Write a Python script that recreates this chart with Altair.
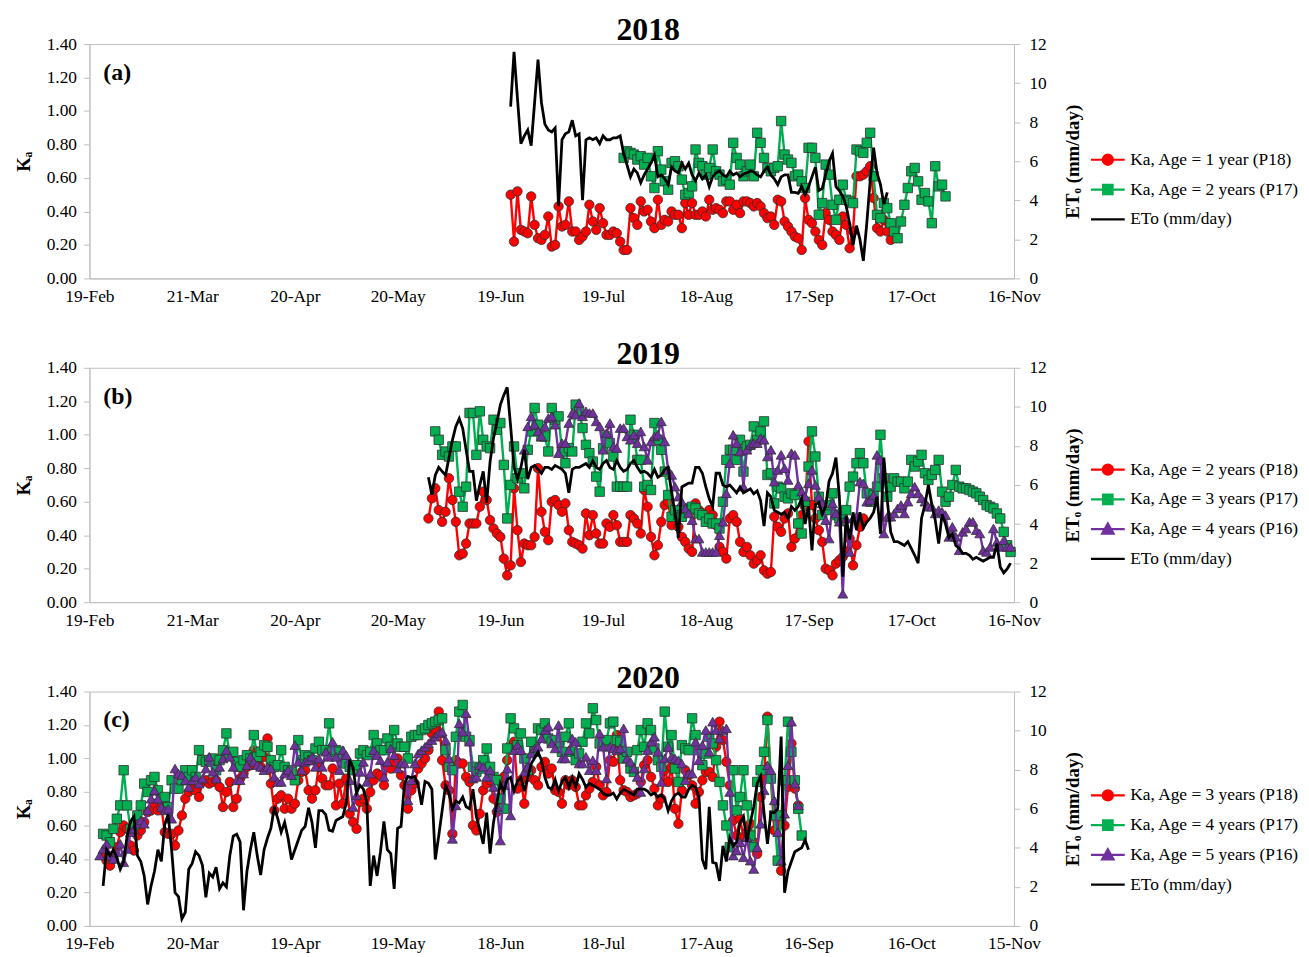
import altair as alt
import pandas as pd

FONT = "Liberation Serif"
GRAY = "#bfbfbf"

TICK_DAYS = [0, 30, 60, 90, 120, 150, 180, 210, 240, 270]
LABELS_2018 = ["19-Feb", "21-Mar", "20-Apr", "20-May", "19-Jun", "19-Jul", "18-Aug", "17-Sep", "17-Oct", "16-Nov"]
LABELS_2019 = ["19-Feb", "21-Mar", "20-Apr", "20-May", "19-Jun", "19-Jul", "18-Aug", "17-Sep", "17-Oct", "16-Nov"]
LABELS_2020 = ["19-Feb", "20-Mar", "19-Apr", "19-May", "18-Jun", "18-Jul", "17-Aug", "16-Sep", "16-Oct", "15-Nov"]
KA_TICKS = [0, 0.2, 0.4, 0.6, 0.8, 1.0, 1.2, 1.4]
ETO_TICKS = [0, 2, 4, 6, 8, 10, 12]

# ---------------- 2018 (day index = days after 19-Feb) ----------------
START_2018_P18 = 123
KA_2018_P18 = [0.50, 0.22, 0.52, 0.29, 0.28, 0.27, 0.49, 0.32, 0.24, 0.23,
               0.26, 0.37, 0.19, 0.20, 0.43, 0.31, 0.32, 0.46, 0.28, 0.28,
               0.23, 0.25, 0.28, 0.44, 0.34, 0.29, 0.42, 0.33, 0.26, 0.26,
               0.28, 0.27, 0.22, 0.17, 0.17, 0.42, 0.36, 0.32, 0.46, 0.40,
               0.41, 0.34, 0.30, 0.47, 0.32, 0.35, 0.34, 0.40, 0.38, 0.38,
               0.30, 0.45, 0.38, 0.45, 0.38, 0.38, 0.40, 0.37, 0.47, 0.41,
               0.42, 0.41, 0.39, 0.46, 0.46, 0.41, 0.44, 0.39, 0.46, 0.46,
               0.45, 0.43, 0.45, 0.43, 0.39, 0.36, 0.37, 0.32, 0.47, 0.46,
               0.34, 0.31, 0.28, 0.25, 0.24, 0.17, 0.48, 0.35, 0.33, 0.28,
               0.23, 0.20, 0.39, 0.35, 0.28, 0.26, 0.23, 0.37, 0.32, 0.18,
               0.28, 0.61, 0.61, 0.62, 0.64, 0.67, 0.48, 0.30, 0.28, 0.35,
               0.28, 0.23]
START_2018_P17 = 156
KA_2018_P17 = [0.72, 0.76, 0.75, 0.74, 0.71, 0.73, 0.68, 0.72, 0.61, 0.54,
               0.76, 0.65, 0.58, 0.53, 0.69, 0.70, 0.67, 0.59, 0.50, 0.51,
               0.55, 0.77, 0.69, 0.67, 0.62, 0.66, 0.77, 0.64, 0.62, 0.58,
               0.59, 0.56, 0.81, 0.72, 0.68, 0.61, 0.64, 0.68, 0.61, 0.87,
               0.81, 0.72, 0.66, 0.64, 0.66, 0.67, 0.94, 0.74, 0.71, 0.69,
               0.61, 0.62, 0.58, 0.54, 0.78, 0.78, 0.72, 0.38, 0.45, 0.68,
               0.62, 0.44, 0.35, 0.47, 0.56, 0.47, 0.46, 0.45, 0.77, 0.76,
               0.75, 0.81, 0.87, 0.61, 0.38, 0.36, 0.45, 0.42, 0.33, 0.28,
               0.24, 0.34, 0.44, 0.54, 0.64, 0.66, 0.58, 0.47, 0.51, 0.46,
               0.33, 0.67, 0.55, 0.56, 0.49]
START_2018_ETO = 123
ETO_2018 = [8.8, 11.6, 9.2, 6.9, 7.3, 7.6, 6.8, 9.0, 11.2, 9.0,
            7.9, 7.6, 7.5, 7.7, 3.7, 7.1, 7.4, 7.5, 8.1, 7.3,
            7.4, 4.0, 7.1, 7.2, 7.1, 7.2, 6.9, 7.3, 7.1, 7.1,
            7.2, 7.2, 7.3, 6.4, 5.8, 5.2, 5.6, 5.4, 4.9, 5.3,
            5.6, 5.9, 6.3, 5.2, 5.3, 5.1, 4.8, 5.7, 5.5, 5.4,
            5.9, 5.6, 5.9, 5.3, 5.0, 5.4, 5.1, 5.3, 4.7, 5.2,
            5.4, 5.5, 5.3, 5.2, 5.5, 5.3, 5.4, 5.2, 5.35, 5.4,
            5.5, 5.45, 5.3, 5.2, 5.5, 5.7, 5.3, 5.1, 4.8, 5.2,
            5.3, 5.3, 4.4, 4.4, 4.35, 4.7, 4.3, 4.7, 5.2, 5.7,
            4.5, 4.6, 5.3, 6.0, 6.4, 4.7, 4.5, 4.2, 3.7, 2.8,
            1.7, 2.7, 2.0, 0.9, 2.8, 5.0, 6.7, 5.4, 4.8, 3.8,
            4.4]

# ---------------- 2019 ----------------
START_2019_P18 = 99
KA_2019_P18 = [0.50, 0.62, 0.68, 0.55, 0.48, 0.54, 0.74, 0.61, 0.48, 0.28,
               0.29, 0.35, 0.47, 0.47, 0.47, 0.57, 0.66, 0.61, 0.49, 0.44,
               0.41, 0.39, 0.26, 0.16, 0.22, 0.68, 0.43, 0.24, 0.35, 0.34,
               0.34, 0.39, 0.80, 0.54, 0.42, 0.37, 0.60, 0.61, 0.58, 0.54,
               0.59, 0.43, 0.36, 0.35, 0.34, 0.32, 0.53, 0.40, 0.52, 0.41,
               0.35, 0.35, 0.47, 0.45, 0.52, 0.46, 0.36, 0.36, 0.36, 0.52,
               0.50, 0.47, 0.41, 0.67, 0.57, 0.39, 0.28, 0.34, 0.48, 0.58,
               0.60, 0.46, 0.52, 0.45, 0.39, 0.36, 0.32, 0.30, 0.59, 0.55,
               0.53, 0.50, 0.55, 0.52, 0.46, 0.33, 0.30, 0.26, 0.50, 0.52,
               0.48, 0.36, 0.30, 0.33, 0.28, 0.23, 0.25, 0.28, 0.19, 0.17,
               0.18, 0.51, 0.45, 0.42, 0.50, 0.53, 0.33, 0.38, 0.47, 0.52,
               0.57, 0.96, 0.58, 0.50, 0.43, 0.36, 0.20, 0.19, 0.16, 0.23,
               0.25, 0.27, 0.30, 0.38, 0.22, 0.34, 0.45, 0.50]
START_2019_P17 = 101
KA_2019_P17 = [1.02, 0.97, 0.88, 0.90, 0.87, 0.93, 0.93, 0.66, 0.57, 0.69,
               1.13, 1.13, 0.88, 1.14, 0.97, 0.93, 0.92, 1.09, 1.03, 1.07,
               0.82, 0.50, 0.70, 0.93, 0.74, 0.77, 0.68, 0.91, 1.02, 1.16,
               1.06, 0.99, 0.99, 0.90, 1.16, 1.09, 1.11, 0.90, 0.83, 0.92,
               0.90, 1.18, 1.14, 1.04, 0.94, 0.89, 0.84, 0.75, 0.66, 0.92,
               0.99, 0.95, 0.87, 0.69, 0.69, 0.69, 0.69, 1.09, 1.00, 0.85,
               0.85, 0.69, 0.70, 0.67, 1.07, 0.97, 0.91, 0.78, 0.64, 0.51,
               0.55, 0.52, 0.51, 0.56, 0.55, 0.57, 0.56, 0.53, 0.52, 0.48,
               0.50, 0.47, 0.47, 0.44, 0.60, 0.85, 0.91, 0.91, 0.85, 0.97,
               0.78, 0.93, 0.94, 1.05, 0.97, 1.02, 1.08, 0.76, 0.77, 0.59,
               0.69, 0.68, 0.63, 0.62, 0.65, 0.64, 0.47, 0.41, 0.60, 0.81,
               1.02, 0.87, 0.63, 0.52, 0.55, 0.58, 0.65, 0.52, 0.50, 0.53,
               0.55, 0.69, 0.75, 0.83, 0.89, 0.83, 0.65, 0.60, 0.64, 0.69,
               1.00, 0.74, 0.63, 0.69, 0.74, 0.72, 0.72, 0.68, 0.72, 0.85,
               0.81, 0.84, 0.88, 0.77, 0.73, 0.76, 0.79, 0.85, 0.66, 0.60,
               0.63, 0.70, 0.79, 0.69, 0.68, 0.68, 0.67, 0.66, 0.65, 0.63,
               0.61, 0.58, 0.57, 0.56, 0.53, 0.50, 0.42, 0.34, 0.30]
START_2019_P16 = 127
KA_2019_P16 = [0.91, 1.05, 1.11, 1.06, 1.02, 0.99, 1.05, 1.10, 1.11, 1.06,
               0.89, 0.95, 0.95, 1.07, 1.13, 1.12, 1.19, 1.11, 1.14, 1.13,
               1.13, 1.08, 1.05, 0.91, 1.01, 1.07, 0.93, 0.92, 1.04, 1.04,
               0.99, 0.97, 1.00, 0.95, 1.02, 0.93, 0.85, 0.96, 0.99, 1.00,
               1.08, 0.96, 0.79, 0.76, 0.69, 0.63, 0.60, 0.56, 0.53, 0.49,
               0.38, 0.38, 0.30, 0.30, 0.30, 0.30,
               0.30, 0.40, 0.48, 0.65, 0.83, 1.00, 0.95, 0.90, 0.69, 0.91,
               0.94, 0.95, 0.95, 0.98, 0.97, 0.87, 0.91, 0.72, 0.79, 0.88,
               0.80, 0.73, 0.89, 0.88, 0.70, 0.66, 0.63, 0.71, 0.79, 0.70,
               0.63, 0.59, 0.49, 0.38, 0.59, 0.53, 0.48, 0.05, 0.50, 0.30,
               0.50, 0.51, 0.72, 0.71, 0.60, 0.61, 0.64, 0.88, 0.85, 0.41,
               0.51, 0.51, 0.53, 0.56, 0.58, 0.53, 0.60, 0.65, 0.69, 0.65,
               0.62, 0.60, 0.57, 0.57, 0.53, 0.55, 0.54, 0.52, 0.39, 0.45,
               0.39, 0.31, 0.42, 0.44, 0.48, 0.48, 0.43, 0.41, 0.31, 0.30,
               0.33, 0.44, 0.36, 0.33, 0.37, 0.33, 0.33]
START_2019_ETO = 99
ETO_2019 = [6.4, 5.5, 6.5, 6.9, 6.7, 6.5, 7.4, 8.3, 9.0, 9.4,
            8.9, 7.8, 6.7, 6.7, 5.2, 6.0, 6.7, 5.1, 7.2, 8.4,
            9.2, 10.1, 10.6, 11.0, 9.0, 6.9, 6.3, 6.9, 7.8, 6.3,
            6.9, 7.0, 6.8, 6.6, 6.9, 6.9, 6.8, 7.0, 6.9, 6.8,
            6.6, 5.6, 6.8, 6.9, 6.9, 7.0, 7.1, 6.9, 7.25, 6.9,
            6.8, 7.1, 7.25, 6.9, 6.8, 7.25, 6.9, 6.7, 6.8, 7.1,
            7.25, 6.9, 6.65, 6.7, 6.6, 6.4, 6.8, 6.4, 6.5, 6.8,
            6.9, 5.6, 4.6, 3.3, 5.9, 6.0, 6.1, 6.1, 6.9, 6.9,
            6.6, 5.9, 5.3, 4.9, 6.6, 6.6, 6.0, 5.9, 6.0, 5.8,
            5.6, 5.9, 5.6, 5.7, 5.8, 5.55, 5.7, 5.2, 3.9, 5.6,
            5.4, 4.7, 4.6, 4.5, 4.6, 4.3, 4.9, 4.7, 4.9, 5.3,
            4.0, 4.9, 2.65, 5.0, 5.1, 4.5, 4.9, 6.2, 6.6, 7.4,
            5.4, 1.3, 4.4, 3.2, 4.6, 3.7, 4.6, 3.8, 4.1, 4.3,
            4.6, 5.4, 3.5, 7.4, 5.2, 3.6, 3.1, 3.1, 3.0, 2.9,
            3.1, 2.75, 2.4, 2.0, 4.3, 5.0, 6.0, 5.0, 4.2, 3.0,
            4.5, 4.0, 3.3, 3.5, 2.9, 2.75, 2.5, 2.5, 2.4, 2.2,
            2.3, 2.2, 2.1, 2.2, 2.3, 2.3, 3.0, 1.8, 1.5, 1.7,
            2.0]

# ---------------- 2020 ----------------
START_2020_P18 = 4
KA_2020_P18 = [0.42, 0.39, 0.36, 0.40, 0.47, 0.56, 0.60, 0.58, 0.48, 0.45,
               0.54, 0.57, 0.62, 0.68, 0.69, 0.73, 0.69, 0.71, 0.56, 0.55,
               0.55, 0.48, 0.57, 0.66, 0.76, 0.80, 0.82, 0.81, 0.77, 0.86,
               0.87, 0.85, 0.86, 0.87, 0.83, 0.71, 0.80, 0.86, 0.71, 0.76,
               0.88, 0.91, 0.95, 0.96, 1.05, 1.04, 0.95, 1.01, 1.12, 0.85,
               0.69, 0.76, 0.78, 0.70, 0.76, 0.70, 0.73, 0.87, 0.92, 0.93,
               0.81, 0.76, 0.81, 0.96, 0.88, 0.84, 0.84, 0.94, 0.72, 0.85,
               0.73, 0.88, 0.67, 0.62, 0.58, 0.74, 0.76, 0.70, 0.80, 0.87,
               0.91, 0.90, 0.84, 0.95, 0.94, 0.98, 1.00, 0.90, 0.84, 0.70,
               0.81, 0.85, 0.94, 0.97, 1.00, 1.05, 1.15, 1.17, 1.28, 0.99,
               0.84, 0.81, 0.55, 0.99, 0.97, 0.97, 0.89, 0.86, 0.60, 0.57,
               0.67, 0.81, 0.85, 0.87, 0.76, 0.68, 0.71, 0.89, 0.99, 1.08,
               1.10, 0.82, 0.87, 0.73, 0.89, 0.93, 0.87, 0.84, 0.95, 0.98,
               0.91, 0.94, 0.81, 0.80, 0.73, 0.87, 0.84, 0.87, 0.83, 0.72,
               0.72, 0.78, 0.82, 0.86, 0.95, 0.84, 0.78, 0.80, 0.99, 0.98,
               1.14, 0.87, 0.81, 0.80, 0.77, 0.78, 0.79, 0.86, 0.96, 0.99,
               0.89, 0.82, 0.72, 0.76, 0.93, 0.86, 0.95, 0.70, 0.61, 0.81,
               0.93, 0.90, 0.84, 0.73, 0.80, 0.87, 0.92, 0.92, 0.89, 1.07,
               1.22, 1.11, 0.98, 0.84, 0.63, 0.54, 0.64, 0.53, 0.56, 0.61,
               0.50, 0.43, 0.77, 0.89, 1.25, 0.88, 0.57, 0.63, 0.33, 0.60,
               0.83, 1.09, 0.82, 0.72]
START_2020_P17 = 4
KA_2020_P17 = [0.55, 0.54, 0.50, 0.58, 0.64, 0.72, 0.93, 0.72, 0.58, 0.60,
               0.66, 0.72, 0.85, 0.80, 0.87, 0.89, 0.81, 0.76, 0.77, 0.71,
               0.87, 0.82, 0.82, 0.87, 0.93, 0.89, 0.93, 0.89, 1.05, 0.99,
               0.98, 0.99, 1.00, 0.93, 0.99, 1.05, 1.15, 1.02, 1.04, 0.98,
               0.95, 0.99, 1.02, 1.00, 1.14, 1.01, 1.04, 1.08, 1.07, 0.99,
               0.95, 0.96, 1.05, 0.95, 0.93, 0.92, 0.87, 1.11, 0.99, 1.02,
               1.01, 0.99, 1.06, 1.10, 1.05, 1.05, 1.21, 1.04, 1.05, 1.04,
               1.00, 0.97, 0.95, 0.93, 0.96, 1.03, 1.05, 1.02, 1.04, 1.14,
               1.09, 1.05, 1.05, 1.12, 1.07, 1.17, 1.09, 1.07, 1.07, 1.00,
               1.13, 1.14, 1.14, 1.17, 1.18, 1.20, 1.21, 1.22, 1.23, 1.24,
               1.05, 0.95, 0.93, 1.13, 1.28, 1.32, 1.13, 1.11, 0.95, 0.92,
               0.94, 0.99, 1.06, 0.95, 0.89, 0.87, 0.76, 0.70, 1.06, 1.24,
               1.18, 1.08, 1.15, 1.00, 0.93, 1.10, 1.04, 1.18, 1.17, 1.21,
               1.12, 1.10, 1.11, 1.07, 1.04, 1.13, 1.21, 1.04, 0.99, 1.03,
               1.10, 1.21, 1.15, 1.30, 1.23, 1.09, 1.10, 1.11, 1.21, 1.22,
               1.11, 1.10, 1.00, 1.04, 0.94, 0.92, 1.05, 1.17, 1.07, 1.21,
               1.17, 1.06, 0.99, 0.95, 1.28, 1.07, 1.14, 0.94, 0.86, 1.08,
               1.06, 1.05, 1.24, 1.14, 1.05, 0.96, 1.03, 1.13, 1.09, 0.99,
               0.86, 0.72, 0.60, 0.47, 0.93, 0.69, 0.77, 0.93, 0.72, 0.54,
               0.47, 0.86, 0.93, 1.04, 1.23, 0.88, 0.66, 0.39, 0.66, 0.87,
               1.22, 1.04, 0.87, 0.70, 0.54]
START_2020_P16 = 3
KA_2020_P16 = [0.42, 0.46, 0.49, 0.42, 0.40, 0.44, 0.49, 0.38, 0.46, 0.56,
               0.58, 0.61, 0.63, 0.61, 0.69, 0.76, 0.81, 0.76, 0.71, 0.69,
               0.70, 0.64, 0.94, 0.91, 0.90, 0.87, 0.83, 0.87, 0.89, 0.85,
               0.88, 0.94, 1.01, 0.92, 0.88, 0.95, 1.00, 1.05, 1.01, 0.95,
               0.87, 0.87, 0.91, 0.96, 1.01, 0.98, 0.96, 0.95, 0.93, 0.95,
               0.94, 0.89, 0.86, 0.86, 0.91, 0.93, 0.90, 1.08, 0.98, 0.93,
               0.98, 0.99, 1.01, 0.95, 1.00, 0.95, 1.04, 1.01, 1.10, 1.01,
               0.93, 1.05, 1.02, 0.87, 0.71, 0.78, 0.92, 0.98, 0.86, 0.91,
               1.05, 1.02, 0.99, 0.89, 0.98, 1.06, 1.02, 0.94, 0.97, 0.97,
               0.75, 0.87, 0.97, 1.03, 1.05, 1.07, 1.09, 1.11, 1.13, 1.15,
               1.16, 1.11, 1.00, 0.52, 0.72, 1.21, 1.16, 1.27, 1.10, 0.88,
               0.89, 0.96, 0.95, 0.89, 0.93, 0.83, 0.71, 0.51, 0.84, 0.94,
               0.66, 1.05, 1.08, 1.05, 0.92, 0.95, 1.03, 1.06, 1.07, 1.12,
               1.17, 1.19, 1.09, 1.06, 1.20, 1.00, 1.00, 1.05, 1.12, 1.10,
               0.97, 0.97, 1.01, 0.93, 0.99, 0.93, 1.15, 1.07, 0.88, 1.07,
               1.06, 1.05, 1.06, 1.18, 1.00, 0.98, 0.94, 0.89, 0.80, 0.94,
               1.05, 1.10, 1.13, 1.04, 0.86, 1.00, 1.07, 1.01, 1.00, 0.99,
               0.97, 0.87, 0.91, 0.91, 1.10, 0.99, 1.08, 1.17, 1.04, 1.22,
               1.17, 1.12, 1.17, 1.18, 0.80, 0.42, 0.45, 0.50, 0.41, 0.53,
               0.39, 0.34, 0.47, 0.61, 0.81, 0.96, 0.93, 0.75, 0.56, 0.39,
               0.67, 0.96, 1.22, 0.85, 0.72]
START_2020_ETO = 4
ETO_2020 = [2.05, 3.9, 3.6, 3.9, 3.5, 2.9, 3.3, 4.6, 5.35, 5.6,
            3.6, 3.3, 2.56, 1.1, 2.05, 2.8, 3.9, 3.3, 5.2, 5.7,
            3.9, 1.7, 1.5, 0.36, 0.7, 2.9, 3.2, 3.8, 3.6, 3.1,
            1.46, 2.7, 2.5, 3.0, 1.9, 2.2, 2.0, 3.6, 4.6, 4.7,
            4.3, 0.8, 2.8, 3.9, 4.8, 3.6, 2.6, 3.9, 4.5, 5.0,
            6.1, 5.5, 4.8, 5.3, 4.5, 3.4, 3.9, 4.4, 4.9, 5.1,
            6.05, 5.3, 4.0, 5.9, 5.9, 5.7, 4.9, 4.85, 5.4, 5.5,
            5.6, 6.3, 8.5, 8.1, 6.8, 7.2, 7.0, 6.3, 2.05, 3.6,
            2.56, 3.8, 5.35, 3.9, 3.7, 1.9, 5.0, 5.1, 7.3, 7.65,
            7.6, 7.65, 7.2, 6.2, 7.4, 7.3, 7.0, 3.4, 4.6, 5.9,
            7.2, 6.8, 6.0, 6.4, 6.3, 6.6, 6.1, 6.0, 7.0, 5.6,
            4.9, 4.2, 5.8, 3.7, 5.3, 6.3, 7.3, 6.9, 7.5, 7.6,
            6.9, 7.4, 7.6, 6.9, 7.6, 8.3, 8.6, 8.9, 8.5, 7.6,
            7.1, 7.0, 7.5, 6.9, 7.4, 7.6, 7.1, 7.6, 7.1, 7.8,
            7.5, 7.1, 7.3, 7.2, 7.1, 7.0, 6.8, 6.7, 6.7, 6.8,
            6.5, 6.8, 7.0, 6.9, 6.8, 6.7, 7.0, 7.0, 7.0, 6.9,
            6.7, 6.8, 6.6, 6.7, 6.5, 5.9, 6.4, 6.7, 6.8, 6.6,
            6.6, 7.0, 7.2, 7.1, 6.6, 3.4, 2.9, 6.1, 3.25, 3.2,
            2.3, 4.1, 3.3, 4.5, 4.1, 4.3, 5.3, 5.6, 4.3, 5.3,
            6.1, 7.3, 7.65, 5.8, 4.2, 5.8, 5.8, 6.0, 9.7, 1.7,
            2.8, 3.3, 3.8, 3.9, 4.0, 4.4, 3.9]

# ---------------- legend texts & styles ----------------
LEGEND_2018 = ["Ka, Age = 1 year (P18)", "Ka, Age = 2 years (P17)", "ETo (mm/day)"]
LEGEND_2019 = ["Ka, Age = 2 years (P18)", "Ka, Age = 3 years (P17)", "Ka, Age = 4 years (P16)", "ETo (mm/day)"]
LEGEND_2020 = ["Ka, Age = 3 years (P18)", "Ka, Age = 4 years (P17)", "Ka, Age = 5 years (P16)", "ETo (mm/day)"]

RED, GREEN, PURPLE, BLACK = "#ff0000", "#00b050", "#7030a0", "#000000"
P_CIRCLE = "M-1,0H1M-0.3,0A0.3,0.3 0 1,0 0.3,0A0.3,0.3 0 1,0 -0.3,0Z"
P_SQUARE = "M-1,0H1M-0.28,-0.28H0.28V0.28H-0.28Z"
P_TRI = "M-1,0H1M0,-0.34L0.34,0.26H-0.34Z"
P_LINE = "M-1,0H1"

W, H = 931, 236
XSCALE = alt.Scale(domain=[0, 270], nice=False, zero=False)
KSCALE = alt.Scale(domain=[0, 1.4], nice=False)
ESCALE = alt.Scale(domain=[0, 12], nice=False)


def series_df(start, vals, col):
    return pd.DataFrame({"day": list(range(start, start + len(vals))), col: vals})


def make_panel(title, letter, tick_labels, ka_series, eto_start, eto_vals,
               legend_names, legend_colors, legend_paths, legend_y):
    label_expr = "[" + ",".join("'%s'" % t for t in tick_labels) + "][round(datum.value / 30)]"
    xaxis = alt.Axis(values=TICK_DAYS, labelExpr=label_expr, title=None, ticks=False,
                     labelPadding=9, labelFlush=False, grid=False)
    kaxis = alt.Axis(values=KA_TICKS, format=".2f", title="Kₐ", titleFontWeight="bold",
                     titleFontSize=19, grid=False, tickSize=6, labelPadding=7, titlePadding=13)
    eaxis = alt.Axis(orient="right", values=ETO_TICKS, title="ETₒ (mm/day)", titleFontWeight="bold",
                     titleFontSize=19, titleAngle=270, grid=False, tickSize=6, labelPadding=9,
                     titlePadding=36)
    ka_layers = []
    for start, vals, color, shape, size in ka_series:
        df = series_df(start, vals, "ka")
        base = alt.Chart(df).encode(
            x=alt.X("day:Q", scale=XSCALE, axis=xaxis),
            y=alt.Y("ka:Q", scale=KSCALE, axis=kaxis),
        )
        ka_layers.append(base.mark_line(color=color, strokeWidth=2.4))
        ka_layers.append(base.mark_point(shape=shape, size=size, filled=True, color=color, fill=color,
                                         stroke="#303030", strokeWidth=0.8, opacity=1))
    eto = alt.Chart(series_df(eto_start, eto_vals, "eto")).mark_line(color=BLACK, strokeWidth=2.8).encode(
        x=alt.X("day:Q", scale=XSCALE, axis=xaxis),
        y=alt.Y("eto:Q", scale=ESCALE, axis=eaxis),
    )
    leg = alt.Legend(title=None, orient="none", legendX=1007, legendY=legend_y,
                     symbolSize=1156, symbolStrokeWidth=2.2, symbolOpacity=1,
                     labelFont=FONT, labelFontSize=17.5, labelColor="black", labelOffset=4,
                     rowPadding=2, padding=0, labelLimit=400)
    ldf = pd.DataFrame({"series": legend_names})
    legend_layer = alt.Chart(ldf).mark_point(opacity=0, filled=True).encode(
        fill=alt.Fill("series:N", scale=alt.Scale(domain=legend_names, range=legend_colors), legend=leg),
        stroke=alt.Stroke("series:N", scale=alt.Scale(domain=legend_names, range=legend_colors), legend=leg),
        shape=alt.Shape("series:N", scale=alt.Scale(domain=legend_names, range=legend_paths), legend=leg),
    )
    letter_layer = alt.Chart(pd.DataFrame({"t": [letter]})).mark_text(
        font=FONT, fontSize=24, fontWeight="bold", align="left", baseline="middle", color="black"
    ).encode(text="t:N", x=alt.value(14), y=alt.value(29))
    return alt.layer(alt.layer(*ka_layers), eto, legend_layer, letter_layer).resolve_scale(
        y="independent"
    ).properties(width=W, height=H, title=title)


pa = make_panel("2018", "(a)", LABELS_2018,
                [(START_2018_P18, KA_2018_P18, RED, "circle", 90),
                 (START_2018_P17, KA_2018_P17, GREEN, "square", 90),
                 ],
                START_2018_ETO, ETO_2018, LEGEND_2018,
                [RED, GREEN, BLACK], [P_CIRCLE, P_SQUARE, P_LINE], 98)
pb = make_panel("2019", "(b)", LABELS_2019,
                [(START_2019_P18, KA_2019_P18, RED, "circle", 90),
                 (START_2019_P17, KA_2019_P17, GREEN, "square", 90),
                 (START_2019_P16, KA_2019_P16, PURPLE, "triangle-up", 100)],
                START_2019_ETO, ETO_2019, LEGEND_2019,
                [RED, GREEN, PURPLE, BLACK], [P_CIRCLE, P_SQUARE, P_TRI, P_LINE], 84)
pc = make_panel("2020", "(c)", LABELS_2020,
                [(START_2020_P18, KA_2020_P18, RED, "circle", 90),
                 (START_2020_P17, KA_2020_P17, GREEN, "square", 90),
                 (START_2020_P16, KA_2020_P16, PURPLE, "triangle-up", 100)],
                START_2020_ETO, ETO_2020, LEGEND_2020,
                [RED, GREEN, PURPLE, BLACK], [P_CIRCLE, P_SQUARE, P_TRI, P_LINE], 86)

chart = alt.vconcat(pa, pb, pc, spacing=32).resolve_scale(
    x="independent", y="independent", fill="independent", stroke="independent", shape="independent"
).properties(
    padding={"left": 5, "top": 2, "right": 0, "bottom": 0}
).configure_axis(
    labelFont=FONT, labelFontSize=17.5, labelColor="black", titleFont=FONT, titleColor="black",
    domainColor=GRAY, tickColor=GRAY, grid=False
).configure_view(
    stroke=GRAY, strokeWidth=1
).configure_title(
    font=FONT, fontSize=32, fontWeight="bold", color="black", anchor="middle", offset=-12,
    frame="bounds", dx=-9
)

chart.save("out.html", embed_options={"renderer": "svg", "actions": False})
